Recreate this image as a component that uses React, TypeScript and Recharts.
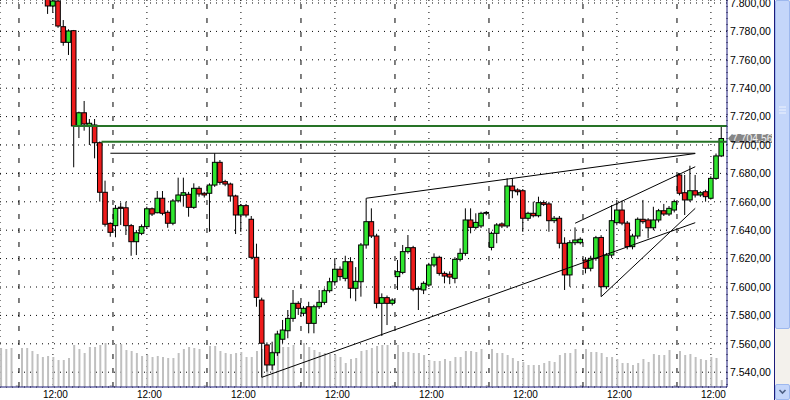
import { Bar, CartesianGrid, ComposedChart, ReferenceLine, XAxis, YAxis } from "recharts";

// hourly session 06:00 .. 23:00, first visible bar is 20:00 of the previous session
const HOURS = [6, 7, 8, 9, 10, 11, 12, 13, 14, 15, 16, 17, 18, 19, 20, 21, 22, 23];
const FIRST_SLOT = 14;

// null = bar above the visible price range
const OPEN = [
  null, null, null, null, null, null, null, null, null,
  7806, 7797.9, 7801.4, 7783.3, 7772.3, 7780.5, 7713.4, 7722.7, 7713.0, 7714.1, 7701.6, 7666.7, 7644.8,
  7643.2, 7656.2, 7655.8, 7643.2, 7631.9, 7637.8, 7642.5, 7655.1, 7652.3, 7662.5, 7652.6, 7644.9, 7660.7, 7664.6, 7665.3, 7656.1, 7669.5, 7666.0,
  7666.0, 7671.8, 7687.8, 7674.2, 7672.5, 7664.1, 7650.7, 7657.3, 7647.7, 7620.9, 7590.8, 7559.2, 7545.1, 7553.7, 7563.2, 7569.2, 7577.9, 7588.5,
  7581.5, 7586.1, 7574.4, 7586.1, 7589.2, 7597.4, 7603.7, 7612.5, 7606.1, 7617.8, 7599.1, 7603.7, 7629.6, 7646.0, 7635.9, 7588.5, 7592.5, 7588.5,
  7607.3, 7610.3, 7624.9, 7627.7, 7599.0, 7597.9, 7601.4, 7615.5, 7620.9, 7609.6, 7609.0, 7606.1, 7619.5, 7623.7, 7647.2, 7642.0, 7643.0, 7651.9,
  7627.9, 7637.8, 7644.4, 7643.0, 7671.1, 7668.3, 7667.8, 7648.4, 7651.9, 7650.2, 7659.4, 7658.5, 7646.7, 7648.4, 7630.8, 7608.5, 7631.2, 7631.2,
  7619.0, 7613.2, 7620.2, 7634.9, 7600.2, 7622.5, 7645.3, 7654.2, 7645.0, 7628.4, 7635.9, 7647.7, 7647.2, 7641.7, 7647.2, 7653.7, 7651.4, 7654.2,
  7678.9, 7666.4, 7661.3, 7667.8, 7664.8, 7667.1, 7662.5, 7676.5, 7692.3,
];
const HIGH = [
  null, null, null, null, null, null, null, null, null,
  7808, 7803, 7803, 7788.0, 7781.5, 7781.0, 7723.5, 7731.0, 7718.3, 7718.3, 7702.5, 7674.9, 7645.5,
  7657.7, 7659.4, 7660.1, 7644.4, 7640.1, 7644.1, 7656.6, 7656.0, 7667.6, 7667.6, 7654.0, 7662.0, 7677.0, 7677.0, 7667.0, 7673.0, 7671.0, 7667.0,
  7673.0, 7694.2, 7689.4, 7675.5, 7673.5, 7665.0, 7658.5, 7658.5, 7650.0, 7630.5, 7592.5, 7561.0, 7561.5, 7569.2, 7576.8, 7583.8, 7597.9, 7590.0,
  7586.5, 7589.6, 7587.5, 7597.9, 7599.0, 7606.5, 7619.9, 7614.5, 7622.0, 7621.0, 7614.0, 7631.0, 7662.5, 7655.4, 7637.5, 7595.5, 7594.0, 7592.0,
  7619.0, 7629.6, 7636.6, 7629.0, 7600.5, 7604.0, 7617.0, 7623.7, 7622.0, 7611.0, 7611.0, 7621.0, 7627.2, 7655.4, 7655.4, 7651.9, 7653.0, 7653.5,
  7639.0, 7645.0, 7645.5, 7676.5, 7676.5, 7669.5, 7669.0, 7653.0, 7660.1, 7663.6, 7661.0, 7660.0, 7650.0, 7650.0, 7635.0, 7633.0, 7642.0, 7635.0,
  7621.0, 7622.0, 7636.0, 7636.5, 7624.0, 7657.7, 7661.3, 7660.8, 7646.5, 7637.5, 7649.0, 7661.3, 7648.5, 7656.5, 7655.0, 7658.5, 7657.0, 7661.5,
  7680.1, 7678.9, 7685.4, 7678.9, 7667.5, 7668.5, 7678.0, 7694.0, 7712.9,
];
const LOW = [
  null, null, null, null, null, null, null, null, null,
  7792.3, 7793.2, 7782.5, 7769.9, 7763.4, 7684.3, 7704.9, 7710.1, 7700.0, 7690.6, 7660.1, 7642.5, 7635.4,
  7635.0, 7643.7, 7636.6, 7622.0, 7622.5, 7636.5, 7641.0, 7650.0, 7651.9, 7650.5, 7641.7, 7643.5, 7659.5, 7656.6, 7649.5, 7655.0, 7663.6, 7663.0,
  7638.9, 7670.5, 7672.0, 7671.0, 7660.1, 7637.3, 7638.9, 7649.0, 7619.5, 7586.1, 7536.4, 7540.4, 7541.5, 7551.5, 7560.4, 7563.9, 7575.5, 7580.3,
  7579.5, 7567.4, 7567.4, 7584.5, 7587.5, 7596.0, 7601.0, 7604.5, 7604.0, 7592.0, 7590.0, 7593.2, 7627.0, 7634.5, 7585.0, 7565.5, 7573.2, 7587.0,
  7597.9, 7609.0, 7623.5, 7597.0, 7583.8, 7595.0, 7600.0, 7614.0, 7608.0, 7602.6, 7602.0, 7602.6, 7618.0, 7622.0, 7637.8, 7640.5, 7641.5, 7650.5,
  7625.8, 7630.8, 7641.5, 7641.5, 7662.5, 7664.5, 7638.9, 7646.5, 7649.0, 7649.0, 7657.0, 7638.9, 7645.0, 7627.2, 7597.9, 7600.2, 7629.5, 7630.0,
  7609.6, 7611.0, 7618.5, 7593.2, 7598.5, 7620.5, 7643.5, 7643.5, 7626.5, 7626.5, 7634.0, 7644.5, 7634.3, 7640.0, 7645.5, 7650.0, 7650.0, 7652.5,
  7664.5, 7650.7, 7660.0, 7663.0, 7663.5, 7660.1, 7661.5, 7675.5, 7691.5,
];
const CLOSE = [
  null, null, null, null, null, null, null, null, null,
  7797.9, 7801.4, 7783.8, 7772.3, 7780.3, 7713.4, 7722.7, 7714.8, 7715.3, 7701.6, 7666.7, 7644.2, 7638.5,
  7655.4, 7655.4, 7643.2, 7631.9, 7638.2, 7642.5, 7655.1, 7651.4, 7662.5, 7651.9, 7644.9, 7660.6, 7664.8, 7666.4, 7656.1, 7669.5, 7665.5, 7664.8,
  7671.8, 7687.8, 7673.7, 7672.5, 7664.1, 7650.7, 7657.3, 7650.7, 7620.9, 7592.7, 7560.4, 7545.1, 7553.7, 7566.9, 7569.7, 7577.9, 7588.5, 7585.0,
  7585.0, 7574.4, 7586.1, 7589.2, 7597.4, 7603.7, 7612.5, 7607.3, 7617.8, 7599.1, 7604.0, 7629.6, 7646.0, 7635.9, 7588.5, 7592.5, 7588.5, 7590.8,
  7610.8, 7624.9, 7627.7, 7598.4, 7598.4, 7602.6, 7615.5, 7620.9, 7609.6, 7607.7, 7607.0, 7619.5, 7623.7, 7647.2, 7642.0, 7645.5, 7651.9, 7652.5,
  7637.8, 7643.7, 7643.0, 7671.1, 7667.8, 7667.1, 7648.4, 7651.9, 7650.2, 7659.4, 7658.2, 7646.7, 7648.4, 7630.8, 7608.5, 7631.2, 7633.1, 7633.6,
  7613.2, 7620.2, 7634.7, 7600.2, 7622.5, 7646.7, 7654.2, 7645.0, 7628.4, 7635.9, 7647.7, 7646.0, 7641.7, 7647.2, 7653.7, 7651.4, 7655.4, 7660.1,
  7666.0, 7661.3, 7667.8, 7664.8, 7666.4, 7663.6, 7676.5, 7692.3, 7704.56,
];
const VOLUME = [
  3900, 3800, 3900, 200,
  3900, 3900, 3600, 3300, 3000, 3100, 3000, 2700, 2700, 2900, 4200, 3800, 3400, 4000, 4000, 4200, 4400, 200,
  4300, 4300, 3700, 3600, 3400, 3100, 3200, 3000, 3100, 3000, 2900, 2900, 3400, 3800, 4000, 3900, 3800, 200,
  4100, 4100, 3600, 3400, 3300, 3400, 3500, 3000, 3000, 3600, 3800, 3800, 3600, 3800, 4000, 4000, 4200, 200,
  4400, 4000, 3700, 3500, 3400, 3300, 3200, 3000, 2400, 2800, 2900, 3600, 3700, 3900, 4100, 4200, 4200, 200,
  4200, 3500, 3500, 3400, 3400, 3200, 2700, 2600, 2600, 2800, 2600, 3000, 3000, 3600, 3600, 3500, 3800, 200,
  3800, 3400, 3400, 3200, 2900, 2600, 2500, 2200, 2200, 2200, 2400, 2600, 2500, 3200, 3400, 3400, 3800, 200,
  3800, 3500, 3500, 3400, 3000, 3000, 2800, 2400, 2400, 2200, 2400, 2800, 2500, 3300, 3200, 3200, 3700, 200,
  3600, 3200, 3300, 3000, 2800, 2700, 3000, 2900, 700,
];

const PRICE_TICKS = [7540, 7560, 7580, 7600, 7620, 7640, 7660, 7680, 7700, 7720, 7740, 7760, 7780, 7800];
const PRICE_DOMAIN = [7529.58, 7802.11];
const X_DOMAIN = [-0.134, 139.08];
const LAST = 7704.56;

// drawn lines, [bar index, price]
const RESISTANCE = [[21, 7694.2], [133, 7694.2]];
const UPPER_TREND = [[70, 7662.5], [133, 7694.0]];
const SUPPORT = [[50, 7536.4], [133, 7645.3]];
const CHANNEL_TOP = [[110, 7644.9], [133, 7684.7]];
const CHANNEL_BOTTOM = [[115, 7593.2], [133, 7655.4]];
const LEVEL_HIGH = [[13.8, 7713.4], [X_DOMAIN[1], 7713.4]];
const LEVEL_LOW = [[19.3, 7702.3], [X_DOMAIN[1], 7702.3]];

const rows = CLOSE.map((c, i) => ({
  i,
  hour: HOURS[(i + FIRST_SLOT) % HOURS.length],
  open: OPEN[i],
  high: HIGH[i],
  low: LOW[i],
  close: c,
  range: c == null ? null : [LOW[i], HIGH[i]],
  vol: VOLUME[i],
}));
const noonTicks = rows.filter((r) => r.hour === 12).map((r) => r.i);
const sessionStarts = rows.filter((r) => r.hour === HOURS[0]).map((r) => r.i - 0.5);

const fmt = (v: number) => {
  const [a, b] = v.toFixed(2).split(".");
  return a.replace(/\B(?=(\d{3})+(?!\d))/g, ".") + "," + b;
};

const RED = "#ee1c1c";
const GREEN = "#2fe62f";
const NAVY = "#1c1c7c";
const FONT = "'Liberation Sans', Arial, sans-serif";

function Candle(props: any) {
  const { x, y, width, height, payload } = props;
  if (payload == null || payload.close == null) return null;
  const { open, close, high, low } = payload;
  const cx = x + width / 2;
  const k = high === low ? 0 : height / (high - low);
  const yo = y + (high - open) * k;
  const yc = y + (high - close) * k;
  const top = Math.min(yo, yc);
  const bot = Math.max(yo, yc);
  return (
    <g>
      <line x1={cx} x2={cx} y1={y} y2={y + height} stroke="#000" strokeWidth={1} />
      <rect x={cx - 2.3} y={top} width={4.6} height={Math.max(bot - top, 0.6)} fill={close >= open ? GREEN : RED} stroke="#000" strokeWidth={1} />
    </g>
  );
}

function PriceTag(props: any) {
  const vb = props.viewBox;
  if (!vb) return null;
  const x0 = vb.x + vb.width;
  const y0 = vb.y;
  return (
    <g>
      <polygon
        points={`${x0 + 1},${y0} ${x0 + 5},${y0 - 4.5} ${x0 + 45},${y0 - 4.5} ${x0 + 45},${y0 + 4.5} ${x0 + 5},${y0 + 4.5}`}
        fill="#868686"
      />
      <text x={x0 + 5} y={y0 + 3.8} fill="#f2f2f2" fontSize={10.4} fontFamily={FONT}>
        {fmt(LAST)}
      </text>
    </g>
  );
}

const seg = (pts: number[][]) => pts.map(([x, y]) => ({ x, y }));

export default function App() {
  return (
    <div style={{ position: "absolute", left: 0, top: 0, width: 790, height: 400, background: "#fff", overflow: "hidden" }}>
      <ComposedChart width={790} height={400} data={rows} margin={{ top: 0, right: 0, bottom: 0, left: 0 }}>
        <CartesianGrid xAxisId="c" yAxisId="p" stroke="#000" strokeDasharray="1 5" />
        <XAxis
          xAxisId="c"
          dataKey="i"
          type="number"
          domain={X_DOMAIN}
          allowDataOverflow
          ticks={noonTicks}
          interval={0}
          tickFormatter={(v) => `${rows[v].hour}:00`}
          height={13}
          tickLine={false}
          tickSize={2}
          tickMargin={2}
          axisLine={{ stroke: NAVY }}
          tick={{ fontSize: 10, fill: "#000", fontFamily: FONT, dx: 2.5 }}
        />
        <XAxis xAxisId="v" dataKey="i" type="number" domain={X_DOMAIN} allowDataOverflow hide />
        <YAxis
          yAxisId="p"
          orientation="right"
          type="number"
          domain={PRICE_DOMAIN}
          allowDataOverflow
          ticks={PRICE_TICKS}
          interval={0}
          width={63}
          tickFormatter={fmt}
          tickLine={false}
          tickSize={1}
          tickMargin={2}
          axisLine={{ stroke: NAVY }}
          tick={{ fontSize: 10.5, fill: "#000", fontFamily: FONT, textAnchor: "start" }}
        />
        <YAxis yAxisId="vol" type="number" domain={[0, 38700]} hide />
        {sessionStarts.map((s) => (
          <ReferenceLine key={s} xAxisId="c" yAxisId="p" x={s} stroke="#000" strokeDasharray="5 9" />
        ))}
        <Bar xAxisId="v" yAxisId="vol" dataKey="vol" barSize={2} fill="#c0c0c0" isAnimationActive={false} />
        <Bar xAxisId="c" yAxisId="p" dataKey="range" barSize={5} shape={Candle} isAnimationActive={false} />
        {[RESISTANCE, UPPER_TREND, SUPPORT, CHANNEL_TOP, CHANNEL_BOTTOM].map((l, k) => (
          <ReferenceLine key={k} xAxisId="c" yAxisId="p" segment={seg(l)} stroke="#000" strokeWidth={1} />
        ))}
        {[LEVEL_HIGH, LEVEL_LOW].map((l, k) => (
          <ReferenceLine key={"g" + k} xAxisId="c" yAxisId="p" segment={seg(l)} stroke="#267326" strokeWidth={2} />
        ))}
        <ReferenceLine xAxisId="c" yAxisId="p" y={LAST} stroke="none" label={(p: any) => <PriceTag {...p} />} />
      </ComposedChart>
      <div style={{ position: "absolute", left: 774, top: 0, width: 1, height: 400, background: NAVY }} />
      <div style={{ position: "absolute", left: 775, top: 0, width: 15, height: 400, background: "#f3f1ec" }}>
        <div style={{ position: "absolute", left: 0, top: 0, width: 13, height: 327, background: "#c4d6fa", border: "1px solid #9db8ee", borderRadius: 2 }}>
          <svg width={13} height={12} style={{ position: "absolute", left: 0, top: 104 }}>
            {[2, 5, 8].map((yy) => (
              <line key={yy} x1={3} x2={10} y1={yy} y2={yy} stroke="#eef3fe" />
            ))}
          </svg>
        </div>
        <div style={{ position: "absolute", left: 0, top: 384, width: 13, height: 14, background: "#c4d6fa", border: "1px solid #9db8ee", borderRadius: 2 }}>
          <svg width={13} height={14}>
            <polyline points="3.5,5 6.5,8 9.5,5" fill="none" stroke="#4d6185" strokeWidth={1.6} />
          </svg>
        </div>
      </div>
    </div>
  );
}
